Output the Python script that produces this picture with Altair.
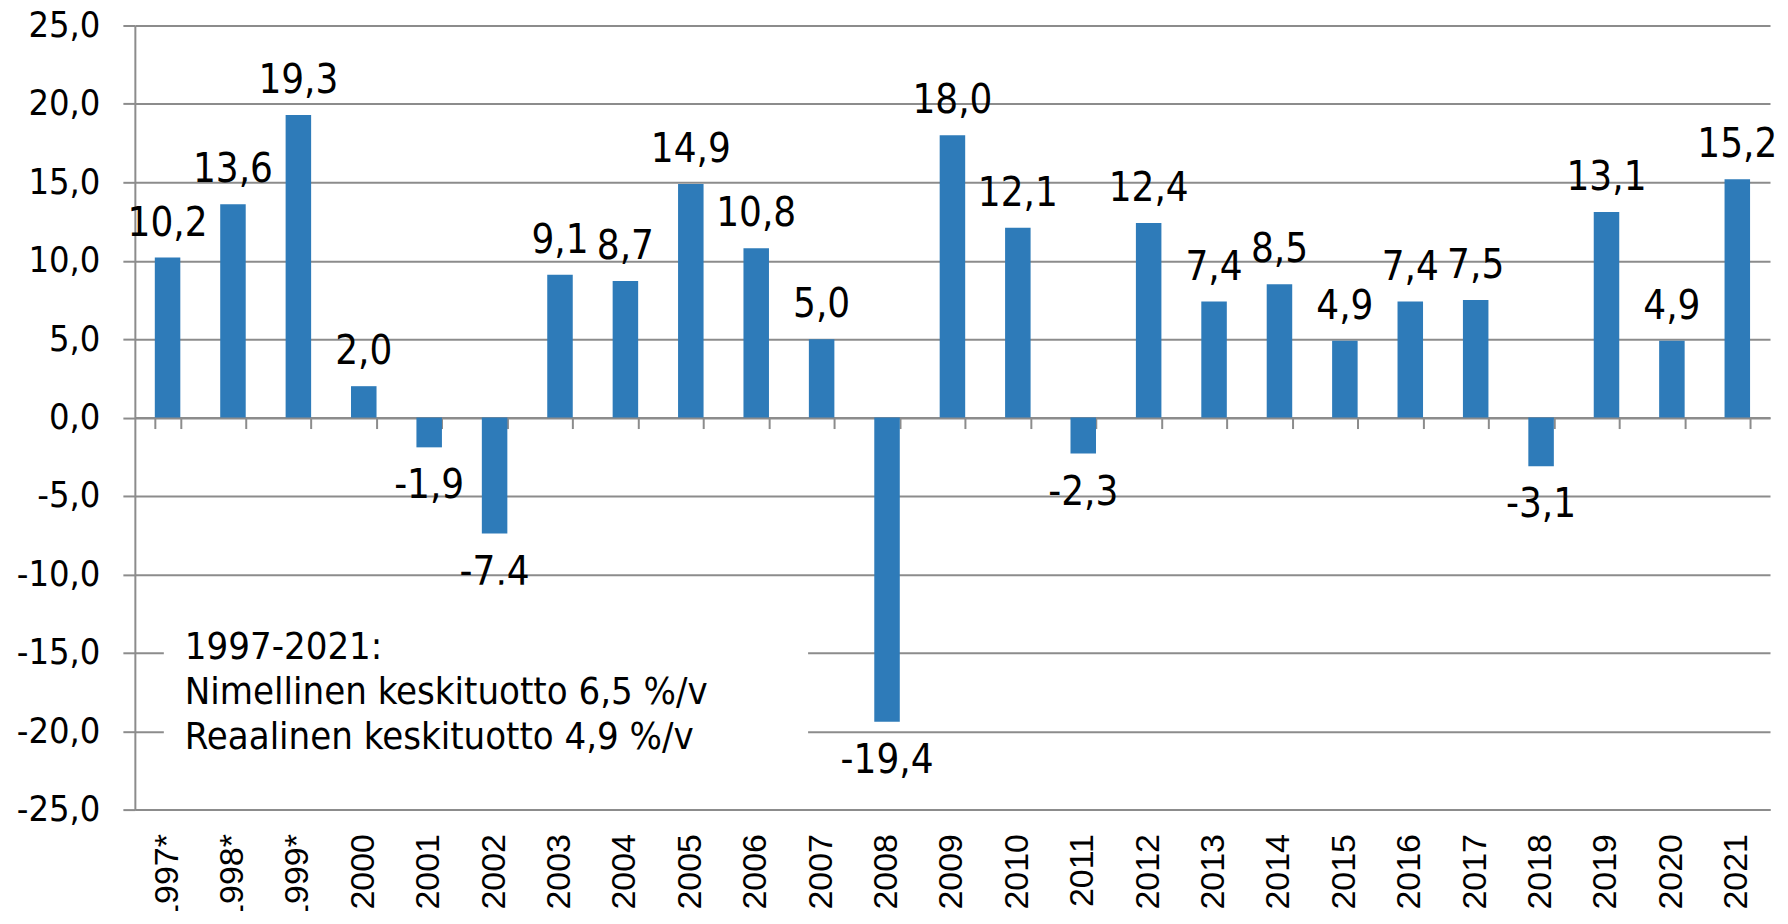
import altair as alt
import pandas as pd

# ---- data ----
years = ["1997*", "1998*", "1999*", "2000", "2001", "2002", "2003", "2004", "2005",
         "2006", "2007", "2008", "2009", "2010", "2011", "2012", "2013", "2014",
         "2015", "2016", "2017", "2018", "2019", "2020", "2021"]
returns = [10.2, 13.6, 19.3, 2.0, -1.9, -7.4, 9.1, 8.7, 14.9, 10.8, 5.0, -19.4, 18.0,
           12.1, -2.3, 12.4, 7.4, 8.5, 4.9, 7.4, 7.5, -3.1, 13.1, 4.9, 15.2]
y_ticks = [-25, -20, -15, -10, -5, 0, 5, 10, 15, 20, 25]
note_lines = ["1997-2021:",
              "Nimellinen keskituotto 6,5 %/v",
              "Reaalinen keskituotto 4,9 %/v"]

df = pd.DataFrame({"year": years, "value": returns})
df["label"] = [f"{v:.1f}".replace(".", ",") for v in returns]

W, H = 1637, 785
GRID = "#8c8c8c"
BAR = "#2E7BB9"
TXT_FONT = "DejaVu Sans Condensed, Noto Sans, sans-serif"
X_FONT = "Liberation Sans, Arial, sans-serif"

x_scale = alt.Scale(domain=years, paddingInner=0.61, paddingOuter=0.305)
y_scale = alt.Scale(domain=[-25, 25], nice=False)

y_axis = alt.Axis(
    values=y_ticks, grid=True, gridColor=GRID, gridWidth=2,
    domainColor=GRID, domainWidth=2, tickColor=GRID, tickWidth=2, tickSize=12,
    labelPadding=23, labelFont=TXT_FONT, labelFontSize=36, labelColor="black",
    labelExpr="replace(replace(format(datum.value, '.1f'), '.', ','), '\u2212', '-')",
    title=None,
)
x_axis_bottom = alt.Axis(
    labelAngle=-90, labelFont=X_FONT, labelFontSize=34, labelColor="black",
    labelPadding=24, ticks=False, domain=True, domainColor=GRID, domainWidth=2,
    title=None, grid=False,
)
x_axis_zero = alt.Axis(
    orient="bottom", offset=-(H / 2), labels=False, ticks=True, tickBand="extent",
    tickSize=11, tickColor=GRID, tickWidth=2, domain=True, domainColor=GRID,
    domainWidth=2, title=None, grid=False,
)

base = alt.Chart(df)

bars = base.mark_bar(color=BAR).encode(
    x=alt.X("year:N", scale=x_scale, axis=x_axis_bottom, sort=years),
    y=alt.Y("value:Q", scale=y_scale, axis=y_axis),
    y2=alt.datum(0),
)

pos_labels = base.transform_filter("datum.value >= 0").mark_text(
    baseline="alphabetic", dy=-22, font=TXT_FONT, fontSize=40, color="black"
).encode(
    x=alt.X("year:N", scale=x_scale, axis=x_axis_zero, sort=years),
    y=alt.Y("value:Q", scale=y_scale, axis=y_axis),
    text="label:N",
)

neg_labels = base.transform_filter("datum.value < 0").mark_text(
    baseline="top", dy=19, font=TXT_FONT, fontSize=40, color="black"
).encode(
    x=alt.X("year:N", scale=x_scale, axis=None, sort=years),
    y=alt.Y("value:Q", scale=y_scale, axis=y_axis),
    text="label:N",
)

note_df = pd.DataFrame({"text": ["\n".join(note_lines)]})
note_bg = alt.Chart(note_df).mark_rect(color="white").encode(
    x=alt.value(29), x2=alt.value(674), y=alt.value(560), y2=alt.value(765)
)
note_text = alt.Chart(note_df).mark_text(
    align="left", baseline="alphabetic", lineBreak="\n", lineHeight=45,
    font=TXT_FONT, fontSize=38, color="black"
).encode(x=alt.value(50), y=alt.value(634), text="text:N")

chart = alt.layer(bars, pos_labels, neg_labels, note_bg, note_text).resolve_axis(
    x="independent"
).properties(
    width=W, height=H,
    autosize=alt.AutoSizeParams(type="none"),
    padding={"left": 127, "top": 17, "right": 10, "bottom": 101},
).configure_view(stroke=None)

chart.save("out.html", embed_options={"renderer": "svg", "actions": False})
